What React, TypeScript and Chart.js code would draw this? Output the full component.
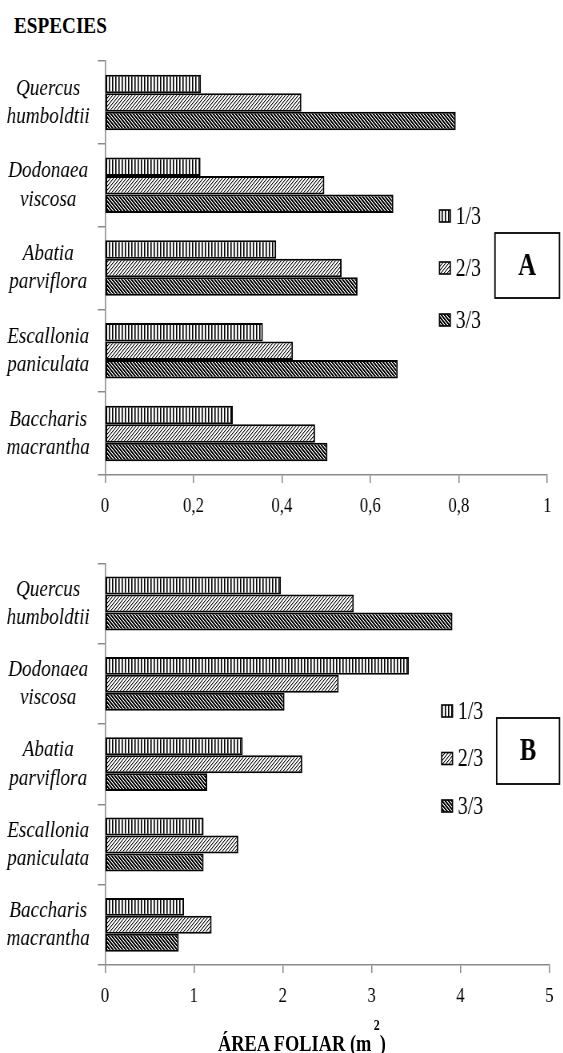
import React, { useEffect, useRef } from 'react';
import { Chart, registerables } from 'chart.js';

Chart.register(...registerables);

// ---- data -------------------------------------------------------------
const species: string[][] = [
  ['Quercus', 'humboldtii'],
  ['Dodonaea', 'viscosa'],
  ['Abatia', 'parviflora'],
  ['Escallonia', 'paniculata'],
  ['Baccharis', 'macrantha'],
];
const seriesLabels = ['1/3', '2/3', '3/3'];

// Panel A
const panelA_1_3 = [0.217, 0.216, 0.387, 0.357, 0.289];
const panelA_2_3 = [0.444, 0.496, 0.535, 0.425, 0.475];
const panelA_3_3 = [0.793, 0.652, 0.571, 0.662, 0.503];
const ticksA = [0, 0.2, 0.4, 0.6, 0.8, 1];
const tickLabelsA = ['0', '0,2', '0,4', '0,6', '0,8', '1'];

// Panel B
const panelB_1_3 = [1.98, 3.42, 1.55, 1.11, 0.89];
const panelB_2_3 = [2.8, 2.63, 2.22, 1.5, 1.2];
const panelB_3_3 = [3.91, 2.02, 1.15, 1.11, 0.83];
const ticksB = [0, 1, 2, 3, 4, 5];
const tickLabelsB = ['0', '1', '2', '3', '4', '5'];

// ---- look -------------------------------------------------------------
const SERIF = '"Liberation Serif", "Times New Roman", serif';
const SX = 0.8; // horizontal squeeze of the whole figure (narrow type)
const PAGE_W = 563;
const PAGE_H = 1053;
const CW = Math.round(PAGE_W / SX); // canvas width before squeeze
const AXIS = '#8a8a8a';

Chart.defaults.font.family = SERIF;

type Kind = 'vertical' | 'forward' | 'back';

function makePattern(ctx: CanvasRenderingContext2D, kind: Kind): CanvasPattern {
  const tile = document.createElement('canvas');
  tile.width = 4;
  tile.height = 4;
  const t = tile.getContext('2d')!;
  t.fillStyle = '#fff';
  t.fillRect(0, 0, 4, 4);
  if (kind === 'vertical') {
    t.fillStyle = '#000';
    t.fillRect(0, 0, 1, 4);
    t.fillStyle = '#666';
    t.fillRect(1, 0, 1, 4);
  } else if (kind === 'forward') {
    for (let i = 0; i < 4; i++) {
      t.fillStyle = '#111';
      t.fillRect(i, 3 - i, 1, 1);
      t.fillStyle = '#aaa';
      t.fillRect((i + 1) % 4, 3 - i, 1, 1);
    }
  } else {
    for (let i = 0; i < 4; i++) {
      t.fillStyle = '#000';
      t.fillRect(i, i, 1, 1);
      t.fillRect((i + 1) % 4, i, 1, 1);
      t.fillStyle = '#777';
      t.fillRect((i + 2) % 4, i, 1, 1);
    }
  }
  return ctx.createPattern(tile, 'repeat')!;
}

// Legend and panel letter drawn inside the plot, at the right
const panelLegend = {
  id: 'panelLegend',
  afterDraw(chart: any, _args: any, opts: any) {
    const ctx: CanvasRenderingContext2D = chart.ctx;
    ctx.save();
    chart.data.datasets.forEach((ds: any, i: number) => {
      const cy = opts.y + i * opts.gap;
      ctx.fillStyle = ds.backgroundColor;
      ctx.fillRect(opts.x, cy - 6, 13.5, 12);
      ctx.strokeStyle = '#000';
      ctx.lineWidth = 1.6;
      ctx.strokeRect(opts.x, cy - 6, 13.5, 12);
      ctx.fillStyle = '#000';
      ctx.font = `25px ${SERIF}`;
      ctx.textAlign = 'left';
      ctx.textBaseline = 'middle';
      ctx.fillText(ds.label, opts.x + 20, cy + 1);
    });
    const b = opts.box;
    ctx.strokeStyle = '#000';
    ctx.lineWidth = 1.8;
    ctx.strokeRect(b.x, b.y, b.w, b.h);
    ctx.fillStyle = '#000';
    ctx.font = `bold 31px ${SERIF}`;
    ctx.textAlign = 'center';
    ctx.textBaseline = 'middle';
    ctx.fillText(opts.letter, b.x + b.w / 2, b.y + b.h / 2 + 1);
    ctx.restore();
  },
};

interface PanelProps {
  top: number;
  height: number;
  values: number[][];
  ticks: number[];
  tickLabels: string[];
  max: number;
  padTop: number;
  padRight: number;
  axisHeight: number;
  legend: any;
}

function Panel(p: PanelProps) {
  const ref = useRef<HTMLCanvasElement>(null);

  useEffect(() => {
    const canvas = ref.current!;
    const ctx = canvas.getContext('2d')!;
    const patterns = [
      makePattern(ctx, 'vertical'),
      makePattern(ctx, 'forward'),
      makePattern(ctx, 'back'),
    ];
    const chart = new Chart(canvas, {
      type: 'bar',
      data: {
        labels: species,
        datasets: p.values.map((vals, i) => ({
          label: seriesLabels[i],
          data: vals,
          backgroundColor: patterns[i],
          borderColor: '#000',
          borderWidth: 2,
          borderSkipped: false,
          categoryPercentage: 0.67,
          barPercentage: 1,
        })),
      },
      options: {
        indexAxis: 'y',
        responsive: false,
        animation: false,
        devicePixelRatio: 1,
        layout: { padding: { top: p.padTop, right: p.padRight, left: 0, bottom: 0 } },
        plugins: {
          legend: { display: false },
          tooltip: { enabled: false },
          panelLegend: p.legend,
        } as any,
        scales: {
          x: {
            type: 'linear',
            min: 0,
            max: p.max,
            afterBuildTicks: (s: any) => {
              s.ticks = p.ticks.map((v) => ({ value: v }));
            },
            afterFit: (s: any) => {
              s.height = p.axisHeight;
            },
            ticks: {
              callback: (_v: any, i: number) => p.tickLabels[i],
              font: { size: 21 },
              color: '#000',
              padding: 11,
              maxRotation: 0,
              autoSkip: false,
            },
            grid: { drawOnChartArea: false, tickLength: 8, color: AXIS, lineWidth: 1.5 },
            border: { color: AXIS, width: 1.5 },
          },
          y: {
            type: 'category',
            afterFit: (s: any) => {
              s.width = 105 / SX;
            },
            ticks: {
              font: { size: 24, style: 'italic', lineHeight: 1.18 },
              color: '#000',
              padding: 10,
              crossAlign: 'center',
              autoSkip: false,
            },
            grid: { offset: true, drawOnChartArea: false, tickLength: 9, color: AXIS, lineWidth: 1.5 },
            border: { color: AXIS, width: 1.5 },
          },
        },
      } as any,
      plugins: [panelLegend],
    });
    return () => chart.destroy();
  }, []);

  return (
    <canvas
      ref={ref}
      width={CW}
      height={p.height}
      style={{
        position: 'absolute',
        left: 0,
        top: p.top,
        width: CW,
        height: p.height,
        transform: `scaleX(${SX})`,
        transformOrigin: '0 0',
      }}
    />
  );
}

export default function App() {
  const squeeze: React.CSSProperties = {
    position: 'absolute',
    transform: `scaleX(${SX})`,
    transformOrigin: '0 0',
    whiteSpace: 'nowrap',
    fontFamily: SERIF,
    fontWeight: 'bold',
    lineHeight: 1,
    color: '#000',
  };
  return (
    <div
      style={{
        position: 'absolute',
        left: 0,
        top: 0,
        width: PAGE_W,
        height: PAGE_H,
        overflow: 'hidden',
        background: '#fff',
      }}
    >
      <div style={{ ...squeeze, left: 14, top: 13, fontSize: 24 }}>ESPECIES</div>

      <Panel
        top={0}
        height={525}
        values={[panelA_1_3, panelA_2_3, panelA_3_3]}
        ticks={ticksA}
        tickLabels={tickLabelsA}
        max={1}
        padTop={61}
        padRight={CW - 547.3 / SX}
        axisHeight={50}
        legend={{
          x: 439.5 / SX,
          y: 216,
          gap: 52,
          letter: 'A',
          box: { x: 495 / SX, y: 233, w: 64.5 / SX, h: 65 },
        }}
      />

      <Panel
        top={525}
        height={PAGE_H - 525}
        values={[panelB_1_3, panelB_2_3, panelB_3_3]}
        ticks={ticksB}
        tickLabels={tickLabelsB}
        max={5}
        padTop={26}
        padRight={CW - 549.3 / SX}
        axisHeight={88}
        legend={{
          x: 441.7 / SX,
          y: 186,
          gap: 47.5,
          letter: 'B',
          box: { x: 496.7 / SX, y: 193, w: 62.8 / SX, h: 66 },
        }}
      />

      <div style={{ ...squeeze, left: 218, top: 1032, fontSize: 23 }}>
        ÁREA FOLIAR (m
        <span style={{ fontSize: 15, position: 'relative', top: -21, marginLeft: 3 }}>2</span>)
      </div>
    </div>
  );
}
